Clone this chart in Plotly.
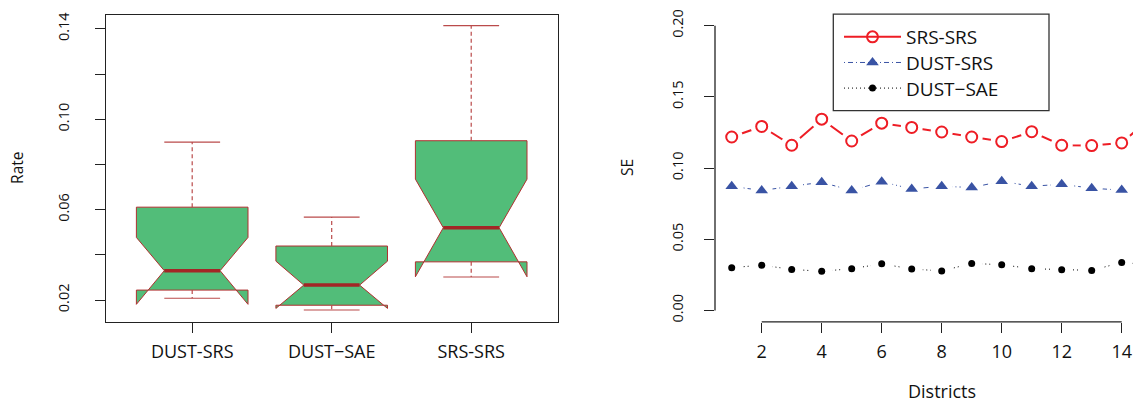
import plotly.graph_objects as go

# ---------------- data ----------------
# Left panel: notched box plot statistics of Rate
box_groups = ["DUST-SRS", "DUST\u2212SAE", "SRS-SRS"]
box_lower_whisker = [0.0208, 0.0156, 0.0302]
box_q1 = [0.0244, 0.0177, 0.0369]
box_median = [0.0330, 0.0266, 0.0520]
box_q3 = [0.0611, 0.0439, 0.0905]
box_upper_whisker = [0.0899, 0.0567, 0.1414]
box_notch_lo = [0.0181, 0.0163, 0.0303]
box_notch_hi = [0.0477, 0.0372, 0.0735]

left_y_tickvals = [0.02, 0.04, 0.06, 0.08, 0.10, 0.12, 0.14]
left_y_ticktext = ["0.02", "", "0.06", "", "0.10", "", "0.14"]

# Right panel: SE by district
districts = list(range(1, 16))
se_srs_srs = [0.1218, 0.1292, 0.1160, 0.1343, 0.1190, 0.1315, 0.1285, 0.1253,
              0.1218, 0.1186, 0.1255, 0.1160, 0.1158, 0.1176, 0.1360]
se_dust_srs = [0.0872, 0.0842, 0.0872, 0.0900, 0.0842, 0.0904, 0.0853, 0.0872,
               0.0863, 0.0907, 0.0872, 0.0886, 0.0858, 0.0845, 0.0850]
se_dust_sae = [0.0300, 0.0318, 0.0288, 0.0275, 0.0293, 0.0327, 0.0291, 0.0277,
               0.0330, 0.0321, 0.0293, 0.0286, 0.0281, 0.0337, 0.0320]
series_names = ["SRS-SRS", "DUST-SRS", "DUST\u2212SAE"]

right_x_tickvals = [2, 4, 6, 8, 10, 12, 14]
right_y_tickvals = [0.00, 0.05, 0.10, 0.15, 0.20]
right_y_ticktext = ["0.00", "0.05", "0.10", "0.15", "0.20"]

# ---------------- styles ----------------
W, H = 1133, 402
FONT = "Open Sans"
BOX_FILL = "#52BD79"
BOX_LINE = "#B03030"
MED_LINE = "#A32626"
WHISK = "#BA4A4A"
RED = "#EE1D25"
BLUE = "#3953A4"
BLACK = "#000000"
AX = "#222222"

fig = go.Figure()

half_w = 0.4      # half box width
notch_w = 0.2     # half width at the notch
cap_w = 0.2       # half staple width

for i, name in enumerate(box_groups):
    c = i + 1
    xs = [c - half_w, c - half_w, c - notch_w, c - half_w, c - half_w,
          c + half_w, c + half_w, c + notch_w, c + half_w, c + half_w, c - half_w]
    ys = [box_q1[i], box_notch_lo[i], box_median[i], box_notch_hi[i], box_q3[i],
          box_q3[i], box_notch_hi[i], box_median[i], box_notch_lo[i], box_q1[i], box_q1[i]]
    fig.add_trace(go.Scatter(x=xs, y=ys, mode="lines", fill="toself",
                             fillcolor=BOX_FILL, line=dict(color=BOX_LINE, width=1),
                             showlegend=False, hoverinfo="skip", xaxis="x", yaxis="y"))

# whiskers (dashed)
wx, wy = [], []
for i in range(len(box_groups)):
    c = i + 1
    wx += [c, c, None, c, c, None]
    wy += [box_q3[i], box_upper_whisker[i], None, box_q1[i], box_lower_whisker[i], None]
fig.add_trace(go.Scatter(x=wx, y=wy, mode="lines", line=dict(color=WHISK, width=1.2, dash="4px,3px"),
                         showlegend=False, hoverinfo="skip", xaxis="x", yaxis="y"))
# staples
sx, sy = [], []
for i in range(len(box_groups)):
    c = i + 1
    sx += [c - cap_w, c + cap_w, None, c - cap_w, c + cap_w, None]
    sy += [box_upper_whisker[i], box_upper_whisker[i], None,
           box_lower_whisker[i], box_lower_whisker[i], None]
fig.add_trace(go.Scatter(x=sx, y=sy, mode="lines", line=dict(color=WHISK, width=1.2),
                         showlegend=False, hoverinfo="skip", xaxis="x", yaxis="y"))
# medians
mx, my = [], []
for i in range(len(box_groups)):
    c = i + 1
    mx += [c - notch_w, c + notch_w, None]
    my += [box_median[i], box_median[i], None]
fig.add_trace(go.Scatter(x=mx, y=my, mode="lines", line=dict(color=MED_LINE, width=3.5),
                         showlegend=False, hoverinfo="skip", xaxis="x", yaxis="y"))

# ---------------- right panel ----------------
series = [se_srs_srs, se_dust_srs, se_dust_sae]
line_styles = [dict(color=RED, width=2),
               dict(color=BLUE, width=1, dash="1px,3px,5px,3px"),
               dict(color=BLACK, width=1, dash="1px,3px")]
markers = [dict(symbol="circle-open", size=11, color=RED, line=dict(color=RED, width=2)),
           dict(symbol="triangle-up", size=11, color=BLUE),
           dict(symbol="circle", size=7, color=BLACK)]

# lines
for s, ls in zip(series, line_styles):
    fig.add_trace(go.Scatter(x=districts, y=s, mode="lines", line=ls,
                             showlegend=False, hoverinfo="skip", xaxis="x2", yaxis="y2"))
# white gaps around points (type = "b")
for s in series:
    fig.add_trace(go.Scatter(x=districts, y=s, mode="markers",
                             marker=dict(symbol="circle", size=22, color="white",
                                         line=dict(width=0)),
                             showlegend=False, hoverinfo="skip", xaxis="x2", yaxis="y2"))
# points
for s, mk in zip(series, markers):
    fig.add_trace(go.Scatter(x=districts, y=s, mode="markers", marker=mk,
                             showlegend=False, xaxis="x2", yaxis="y2"))
# legend entries
legend_ids = ["legend", "legend2", "legend3"]
for nm, ls, mk, lg in zip(series_names, line_styles, markers, legend_ids):
    fig.add_trace(go.Scatter(x=[None], y=[None], mode="lines+markers", name=nm,
                             line=ls, marker=mk, legend=lg, xaxis="x2", yaxis="y2"))

# ---------------- layout ----------------
L_x0, L_x1, L_y0, L_y1 = 105.7, 557.7, 10.0, 321.3
R_x0, R_y0, R_y1 = 715.0, 9.4, 321.6

def px_x(p):
    return p / W

def px_y(p):
    return 1 - p / H

tick_font_h = dict(family=FONT, size=18, color="#111")
tick_font_v = dict(family=FONT, size=14.5, color="#111")

fig.update_layout(
    width=W, height=H,
    margin=dict(l=0, r=0, t=0, b=0),
    paper_bgcolor="white", plot_bgcolor="white",
    showlegend=True,
    xaxis=dict(domain=[px_x(L_x0), px_x(L_x1)], range=[0.38, 3.62],
               tickvals=[1, 2, 3], ticktext=box_groups,
               ticks="outside", ticklen=10, tickcolor=AX, tickwidth=1.3,
               showline=True, mirror=True, linecolor=AX, linewidth=1.3,
               showgrid=False, zeroline=False, tickfont=tick_font_h,
               ticklabelstandoff=4, anchor="y"),
    yaxis=dict(domain=[px_y(L_y1), px_y(L_y0)], range=[0.0105, 0.1462],
               tickvals=left_y_tickvals, ticktext=left_y_ticktext,
               ticks="outside", ticklen=10, tickcolor=AX, tickwidth=1.3,
               showline=True, mirror=True, linecolor=AX, linewidth=1.3,
               showgrid=False, zeroline=False, tickangle=-90, tickfont=tick_font_v,
               ticklabelstandoff=20, anchor="x"),
    xaxis2=dict(domain=[px_x(R_x0), 1.0], range=[0.443, 14.377],
                tickvals=right_x_tickvals, ticks="outside", ticklen=10,
                tickcolor=AX, tickwidth=1.3, showline=False,
                showgrid=False, zeroline=False, tickfont=tick_font_h,
                ticklabelstandoff=4, anchor="y2"),
    yaxis2=dict(domain=[px_y(R_y1), px_y(R_y0)], range=[-0.008, 0.208],
                tickvals=right_y_tickvals, ticktext=right_y_ticktext,
                ticks="outside", ticklen=10, tickcolor=AX, tickwidth=1.3,
                showline=False, showgrid=False, zeroline=False, tickangle=-90,
                tickfont=tick_font_v, ticklabelstandoff=15, anchor="x2"),
    shapes=[
        # right-panel axis lines spanning the ticks only (R style)
        dict(type="line", xref="x2", yref="y2 domain",
             x0=min(right_x_tickvals), x1=max(right_x_tickvals), y0=0, y1=0,
             line=dict(color=AX, width=1.3)),
        dict(type="line", xref="x2 domain", yref="y2",
             x0=0, x1=0, y0=min(right_y_tickvals), y1=max(right_y_tickvals),
             line=dict(color=AX, width=1.3)),
        # legend frame
        dict(type="rect", xref="paper", yref="paper",
             x0=px_x(833.3), x1=px_x(1049), y0=px_y(107.3), y1=px_y(9.3),
             line=dict(color="#333", width=1.3), fillcolor="white", layer="above"),
    ],
    annotations=[
        dict(text="Rate", x=px_x(16.7), y=px_y((L_y0 + L_y1) / 2), xref="paper", yref="paper",
             textangle=-90, showarrow=False, xanchor="center", yanchor="middle",
             font=dict(family=FONT, size=15.5, color="#111")),
        dict(text="SE", x=px_x(627), y=px_y((R_y0 + R_y1) / 2), xref="paper", yref="paper",
             textangle=-90, showarrow=False, xanchor="center", yanchor="middle",
             font=dict(family=FONT, size=15.5, color="#111")),
        dict(text="Districts", x=px_x(941.7), y=px_y(391.5), xref="paper", yref="paper",
             showarrow=False, xanchor="center", yanchor="middle",
             font=dict(family=FONT, size=18, color="#111")),
    ],
)

leg_rows = [32.5, 58.5, 84.5]
for lg, row in zip(legend_ids, leg_rows):
    fig.update_layout({lg: dict(x=px_x(839), y=px_y(row), xanchor="left", yanchor="middle",
                                bgcolor="rgba(0,0,0,0)", borderwidth=0, itemwidth=57,
                                font=dict(family=FONT, size=19, color="#111"))})

fig.write_html("out.html")
